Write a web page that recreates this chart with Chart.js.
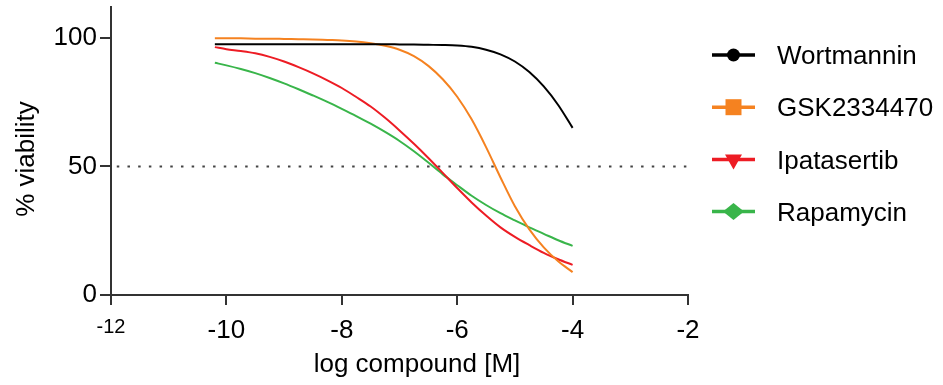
<!DOCTYPE html>
<html>
<head>
<meta charset="utf-8">
<script src="https://cdn.jsdelivr.net/npm/chart.js@4.4.1/dist/chart.umd.min.js"></script>
<style>
  html, body { margin: 0; padding: 0; background: #fff; }
  #wrap { width: 943px; height: 385px; }
</style>
</head>
<body>
<div id="wrap"><canvas id="chart"></canvas></div>
<script>
// log dose values the fitted curves were read at
const logDose = [-10.2, -10, -9.75, -9.5, -9.25, -9, -8.75, -8.5, -8.25, -8, -7.75, -7.5, -7.25,
                 -7, -6.75, -6.5, -6.25, -6, -5.75, -5.5, -5.25, -5, -4.75, -4.5, -4.25, -4];

const wortmannin = [97.5, 97.5, 97.5, 97.5, 97.5, 97.5, 97.5, 97.5, 97.5, 97.5, 97.5, 97.5, 97.5,
                    97.45, 97.4, 97.3, 97.2, 97.0, 96.5, 95.4, 93.6, 90.8, 86.7, 81.1, 73.9, 65.0];
const gsk2334470 = [99.8, 99.8, 99.8, 99.7, 99.7, 99.6, 99.5, 99.4, 99.2, 99.0, 98.6, 97.9, 96.9,
                    95.4, 92.9, 89.1, 83.9, 77.1, 68.3, 57.5, 45.7, 34.5, 25.5, 18.5, 13.1, 8.9];
const ipatasertib = [96.4, 95.6, 94.9, 94.0, 92.6, 90.8, 88.6, 86.2, 83.5, 80.5, 77.0, 73.3, 68.9,
                     64.0, 58.8, 53.3, 47.5, 41.6, 36.0, 30.9, 26.3, 22.6, 19.4, 16.4, 13.9, 11.7];
const rapamycin = [90.3, 89.3, 87.9, 86.3, 84.4, 82.3, 80.0, 77.6, 75.1, 72.4, 69.6, 66.6, 63.4,
                   59.9, 55.9, 51.5, 46.9, 42.7, 38.6, 35.0, 31.8, 29.0, 26.3, 23.8, 21.3, 19.1];

const seriesNames = ['Wortmannin', 'GSK2334470', 'Ipatasertib', 'Rapamycin'];
const seriesColors = ['#000000', '#F58220', '#ED1C24', '#39B54A'];
const seriesMarkers = ['circle', 'square', 'triangleDown', 'diamond'];

const xTicks = [-12, -10, -8, -6, -4, -2];
const yTicks = [0, 50, 100];
const refLine = 50;

const FONT = "'Liberation Sans', Arial, sans-serif";
const AXIS = '#333333';

const toPoints = vals => logDose.map((x, i) => ({ x: x, y: vals[i] }));
const allSeries = [wortmannin, gsk2334470, ipatasertib, rapamycin];

const datasets = allSeries.map((vals, i) => ({
  label: seriesNames[i],
  data: toPoints(vals),
  borderColor: seriesColors[i],
  borderWidth: 2,
  pointRadius: 0,
  fill: false,
  cubicInterpolationMode: 'monotone'
}));

// dotted 50% line
datasets.push({
  label: 'ref',
  data: [{ x: -11.9, y: refLine }, { x: -2, y: refLine }],
  borderColor: '#444',
  borderWidth: 2,
  borderDash: [2.5, 8.2],
  pointRadius: 0,
  fill: false
});

function drawMarker(ctx, kind, x, y, color) {
  ctx.fillStyle = color;
  ctx.beginPath();
  if (kind === 'circle') {
    ctx.arc(x, y, 6.5, 0, Math.PI * 2);
  } else if (kind === 'square') {
    ctx.rect(x - 8, y - 8, 16, 16);
  } else if (kind === 'triangleDown') {
    ctx.moveTo(x - 8.5, y - 5);
    ctx.lineTo(x + 8.5, y - 5);
    ctx.lineTo(x, y + 10);
    ctx.closePath();
  } else if (kind === 'diamond') {
    ctx.moveTo(x, y - 8.5);
    ctx.lineTo(x + 10.5, y);
    ctx.lineTo(x, y + 8.5);
    ctx.lineTo(x - 10.5, y);
    ctx.closePath();
  }
  ctx.fill();
}

const extras = {
  id: 'extras',
  afterDraw(chart) {
    const ctx = chart.ctx;
    ctx.save();
    // legend
    ctx.font = '26px ' + FONT;
    ctx.textBaseline = 'middle';
    ctx.textAlign = 'left';
    seriesNames.forEach((name, i) => {
      const y = 55 + i * 52.2;
      ctx.strokeStyle = seriesColors[i];
      ctx.lineWidth = 3.5;
      ctx.beginPath();
      ctx.moveTo(712, y);
      ctx.lineTo(755, y);
      ctx.stroke();
      drawMarker(ctx, seriesMarkers[i], 733.5, y, seriesColors[i]);
      ctx.fillStyle = '#000';
      ctx.fillText(name, 777, y + 2);
    });
    // axis titles
    ctx.fillStyle = '#000';
    ctx.textBaseline = 'alphabetic';
    ctx.textAlign = 'center';
    ctx.fillText('log compound [M]', 417, 372);
    ctx.translate(34, 159);
    ctx.rotate(-Math.PI / 2);
    ctx.fillText('% viability', 0, 0);
    ctx.restore();
  }
};

new Chart(document.getElementById('chart'), {
  type: 'line',
  data: { datasets: datasets },
  plugins: [extras],
  options: {
    responsive: true,
    maintainAspectRatio: false,
    animation: false,
    layout: { padding: { top: 7, right: 255, left: 0, bottom: 0 } },
    plugins: {
      legend: { display: false },
      tooltip: { enabled: false }
    },
    scales: {
      x: {
        type: 'linear',
        min: -12,
        max: -2,
        afterBuildTicks: s => { s.ticks = xTicks.map(v => ({ value: v })); },
        afterFit: s => { s.height = 90; },
        border: { display: true, color: AXIS, width: 2 },
        grid: { drawOnChartArea: false, drawTicks: true, tickLength: 10, color: AXIS, lineWidth: 2 },
        ticks: {
          color: '#000',
          padding: 10,
          maxRotation: 0,
          font: c => ({ family: FONT, size: (c.tick && c.tick.value === -12) ? 20 : 26 }),
          callback: v => String(v)
        }
      },
      y: {
        min: 0,
        max: 112,
        afterBuildTicks: s => { s.ticks = yTicks.map(v => ({ value: v })); },
        afterFit: s => { s.width = 111; s.paddingTop = 0; s.paddingBottom = 0; },
        border: { display: true, color: AXIS, width: 2 },
        grid: { drawOnChartArea: false, drawTicks: true, tickLength: 11, color: AXIS, lineWidth: 2 },
        ticks: {
          color: '#000',
          padding: 3,
          font: { family: FONT, size: 26 },
          callback: v => String(v)
        }
      }
    }
  }
});
</script>
</body>
</html>
